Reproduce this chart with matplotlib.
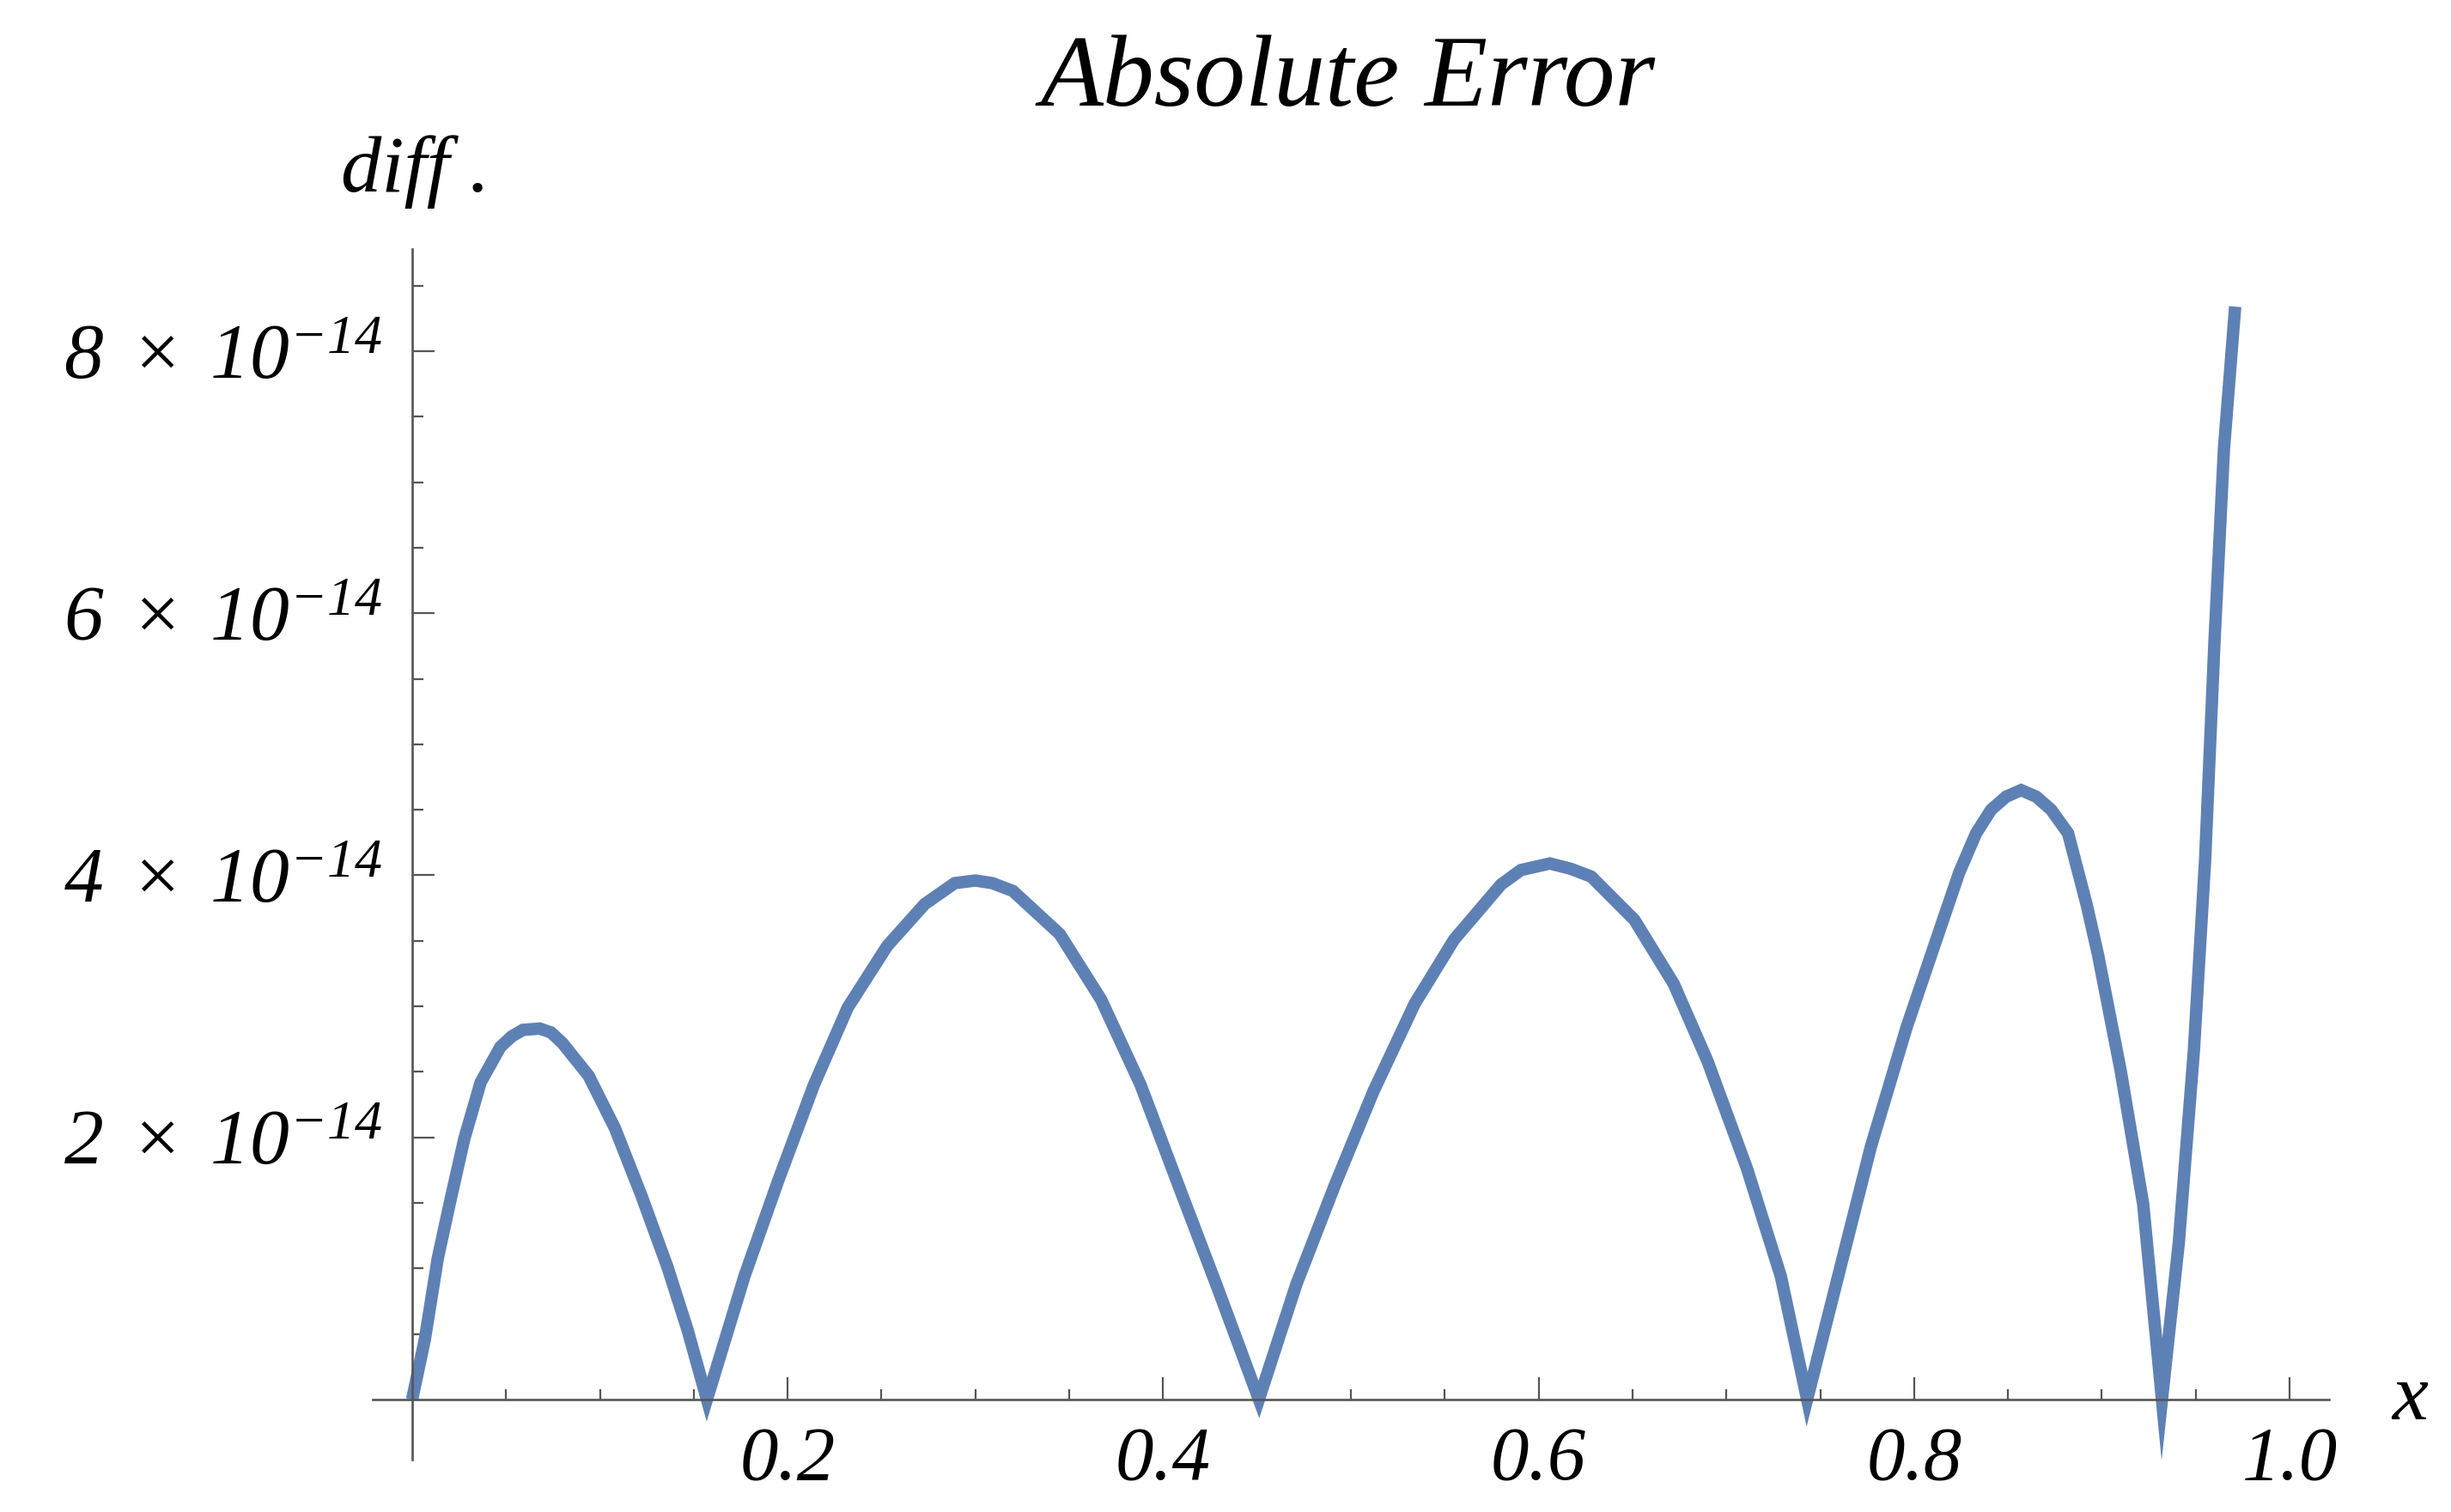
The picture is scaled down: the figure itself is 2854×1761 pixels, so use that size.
import numpy as np
import matplotlib
matplotlib.use("Agg")
import matplotlib.pyplot as plt

plt.rcParams['font.family'] = ['Liberation Serif', 'DejaVu Serif']
plt.rcParams['mathtext.fontset'] = 'custom'
plt.rcParams['mathtext.rm'] = 'Liberation Serif:italic'
plt.rcParams['mathtext.it'] = 'Liberation Serif:italic'

# -------- data (diff in units of 1e-14) --------
x_vals = [0.0, 0.0068, 0.0137, 0.0207, 0.0278, 0.0365, 0.047, 0.053, 0.059, 0.068, 0.074,
          0.080, 0.094, 0.108, 0.122, 0.136, 0.1467, 0.157,
          0.177, 0.195, 0.214, 0.232, 0.253, 0.273, 0.289, 0.300, 0.309, 0.320,
          0.345, 0.367, 0.388, 0.408, 0.429, 0.451,
          0.471, 0.4916, 0.512, 0.534, 0.555, 0.580, 0.5906, 0.606, 0.617, 0.628,
          0.651, 0.672, 0.690, 0.711, 0.729, 0.743,
          0.759, 0.777, 0.796, 0.814, 0.824, 0.833, 0.841, 0.849, 0.857, 0.865, 0.873,
          0.882, 0.892, 0.898, 0.910, 0.922, 0.932,
          0.941, 0.949, 0.955, 0.960, 0.965, 0.971]
diff_e14 = [0, 0.46, 1.08, 1.54, 1.99, 2.42, 2.69, 2.77, 2.82, 2.83, 2.80,
            2.72, 2.47, 2.07, 1.56, 1.01, 0.53, 0,
            0.94, 1.67, 2.40, 2.99, 3.46, 3.78, 3.94, 3.96, 3.94, 3.88,
            3.55, 3.05, 2.40, 1.64, 0.85, 0,
            0.88, 1.64, 2.35, 3.02, 3.51, 3.93, 4.04, 4.09, 4.05, 3.99,
            3.66, 3.17, 2.58, 1.76, 0.94, 0,
            0.91, 1.93, 2.84, 3.60, 4.02, 4.32, 4.50, 4.60, 4.65, 4.60, 4.50,
            4.32, 3.77, 3.39, 2.51, 1.49, 0,
            1.20, 2.66, 4.12, 5.79, 7.25, 8.34]

x_ticks = [0.2, 0.4, 0.6, 0.8, 1.0]
x_ticklabels = ["0.2", "0.4", "0.6", "0.8", "1.0"]
y_ticks_e14 = [2, 4, 6, 8]
y_ticklabels = [r"$2\;\times\;10^{-14}$", r"$4\;\times\;10^{-14}$",
                r"$6\;\times\;10^{-14}$", r"$8\;\times\;10^{-14}$"]

W, H = 2854, 1761
fig = plt.figure(figsize=(W / 100, H / 100), dpi=100)
ax = fig.add_axes([434 / W, 1 - 1700 / H, (2712 - 434) / W, (1700 - 290) / H])

ax.plot(x_vals, np.array(diff_e14) * 1e-14, color="#5E81B5", lw=10.4,
        solid_joinstyle="miter", solid_capstyle="butt")

ax.set_xlim(-0.021, 1.021)
ax.set_ylim(-0.46e-14, 8.78e-14)

axis_col = "#555555"
for s in ["top", "right"]:
    ax.spines[s].set_visible(False)
ax.spines["left"].set_position(("data", 0))
ax.spines["bottom"].set_position(("data", 0))
for s in ["left", "bottom"]:
    ax.spines[s].set_color(axis_col)
    ax.spines[s].set_linewidth(1.9)

ax.set_xticks(x_ticks)
ax.set_xticklabels(x_ticklabels)
ax.set_xticks([0.05, 0.1, 0.15, 0.25, 0.3, 0.35, 0.45, 0.5, 0.55, 0.65, 0.7, 0.75,
               0.85, 0.9, 0.95], minor=True)
ax.set_yticks(np.array(y_ticks_e14) * 1e-14)
ax.set_yticklabels(y_ticklabels)
ax.set_yticks(np.array([0.5, 1, 1.5, 2.5, 3, 3.5, 4.5, 5, 5.5, 6.5, 7, 7.5, 8.5]) * 1e-14,
              minor=True)

ax.tick_params(which="both", direction="in", color=axis_col, width=1.6)
ax.tick_params(which="major", length=18.5)
ax.tick_params(which="minor", length=9)
ax.tick_params(axis="x", which="major", labelsize=64, pad=22)
ax.tick_params(axis="y", which="major", labelsize=66, pad=25)
for lab in ax.get_xticklabels():
    lab.set_style("italic")

fig.text(1570 / W, 1 - 123 / H, "Absolute Error", ha="center", va="baseline",
         fontsize=86, style="italic")
fig.text(397 / W, 1 - 223 / H, "diff .", ha="left", va="baseline",
         fontsize=68, style="italic")
fig.text(2785 / W, 1 - 1653 / H, "x", ha="left", va="baseline",
         fontsize=68, style="italic")

fig.savefig("out.png", dpi=100)
